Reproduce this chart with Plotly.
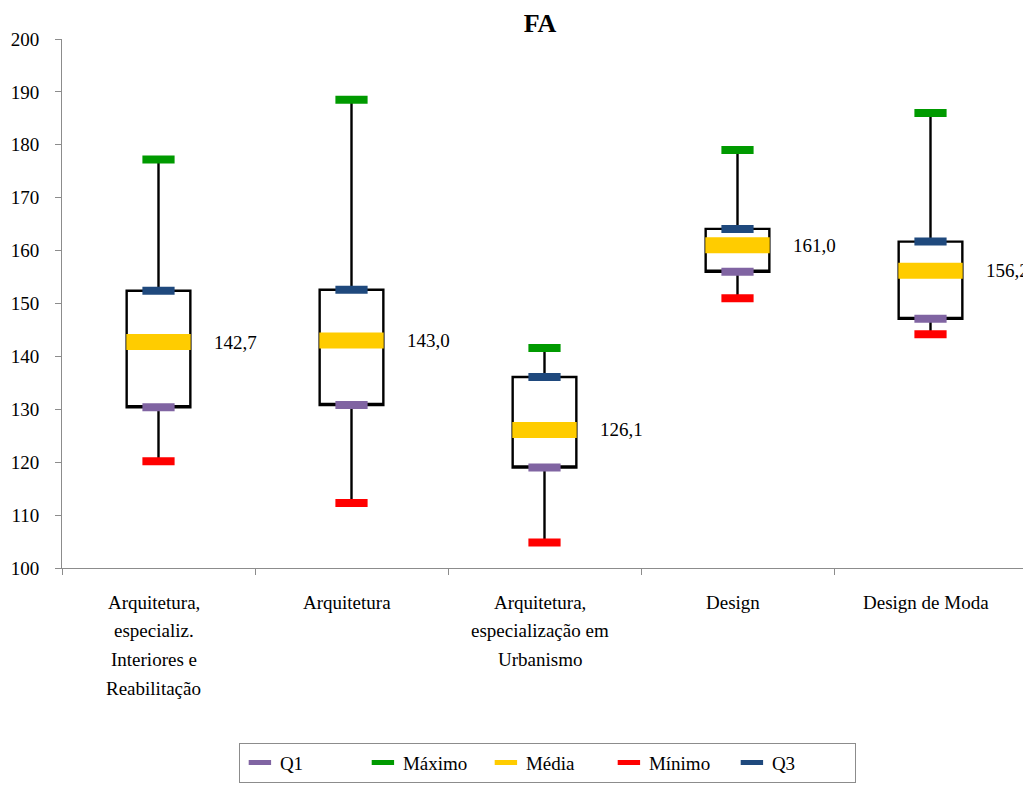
import plotly.graph_objects as go

categories = [
    "Arquitetura,<br>especializ.<br>Interiores e<br>Reabilitação",
    "Arquitetura",
    "Arquitetura,<br>especialização em<br>Urbanismo",
    "Design",
    "Design de Moda",
]
q1_vals = [130.4, 130.8, 119.0, 156.0, 147.1]
max_vals = [177.2, 188.5, 141.6, 179.0, 186.0]
mean_vals = [142.7, 143.0, 126.1, 161.0, 156.2]
min_vals = [120.2, 112.3, 104.8, 151.0, 144.2]
q3_vals = [152.4, 152.6, 136.1, 164.1, 161.7]
mean_labels = ["142,7", "143,0", "126,1", "161,0", "156,2"]

xpos = list(range(len(categories)))
FONT = "Liberation Serif"
FS = 19

fig = go.Figure()

fig.add_trace(go.Box(
    x=xpos, q1=q1_vals, median=q1_vals, q3=q3_vals,
    lowerfence=min_vals, upperfence=max_vals,
    width=0.33, whiskerwidth=0,
    fillcolor="rgba(255,255,255,0)",
    line=dict(color="black", width=2.4),
    showlegend=False, hoverinfo="skip",
))

def add_marker(name, vals, color, size, thick):
    fig.add_trace(go.Scatter(
        x=xpos, y=vals, mode="markers", name=name,
        marker=dict(symbol="line-ew", size=size, color=color,
                    line=dict(color=color, width=thick)),
    ))

add_marker("Q1", q1_vals, "#8064A2", 23, 8)
add_marker("Máximo", max_vals, "#009A00", 23, 8)
add_marker("Média", mean_vals, "#FFCC00", 46, 16)
add_marker("Mínimo", min_vals, "#FF0000", 23, 8)
add_marker("Q3", q3_vals, "#1F497D", 23, 8)

for i, (m, lab) in enumerate(zip(mean_vals, mean_labels)):
    fig.add_annotation(x=i + 0.275, y=m, text=lab, showarrow=False,
                       xanchor="left", yanchor="middle",
                       font=dict(family=FONT, size=FS, color="black"))

# category labels, one annotation per line to reproduce the line spacing
for i, cat in enumerate(categories):
    for k, line in enumerate(cat.split("<br>")):
        fig.add_annotation(x=i, xref="x", y=0, yref="paper", text=line,
                           showarrow=False, xanchor="center", yanchor="middle",
                           xshift=-5, yshift=-(34 + 28.7 * k),
                           font=dict(family=FONT, size=FS, color="black"))

fig.update_layout(
    width=1031, height=792,
    paper_bgcolor="white", plot_bgcolor="white",
    margin=dict(l=54, r=12, t=31, b=232, autoexpand=False),
    title=dict(text="<b>FA</b>", x=0.516, xanchor="center", y=0.9817, yanchor="middle",
               font=dict(family=FONT, size=26, color="black")),
    font=dict(family=FONT, size=FS, color="black"),
    showlegend=True,
    legend=dict(orientation="h", x=0.503, xanchor="center", y=-0.33, yanchor="top",
                bordercolor="#8C8C8C", borderwidth=1, entrywidth=78,
                font=dict(family=FONT, size=FS, color="black")),
)

fig.update_xaxes(
    range=[-0.5, len(categories) - 0.5], automargin=False,
    tickmode="array", tickvals=xpos, ticktext=[""] * len(categories),
    ticks="", showgrid=False, zeroline=False,
    showline=True, linecolor="#8C8C8C", linewidth=1,
    minor=dict(tickmode="array", tickvals=[i - 0.5 for i in range(len(categories) + 1)],
               ticks="outside", ticklen=6, tickcolor="#8C8C8C", showgrid=False),
)
fig.update_yaxes(
    range=[100, 200], tickmode="linear", tick0=100, dtick=10, automargin=False,
    ticks="outside", ticklen=6, tickcolor="#8C8C8C", ticklabelstandoff=12,
    showgrid=False, zeroline=False,
    showline=True, linecolor="#8C8C8C", linewidth=1,
    tickfont=dict(family=FONT, size=FS, color="black"),
)

fig.write_html("out.html")
